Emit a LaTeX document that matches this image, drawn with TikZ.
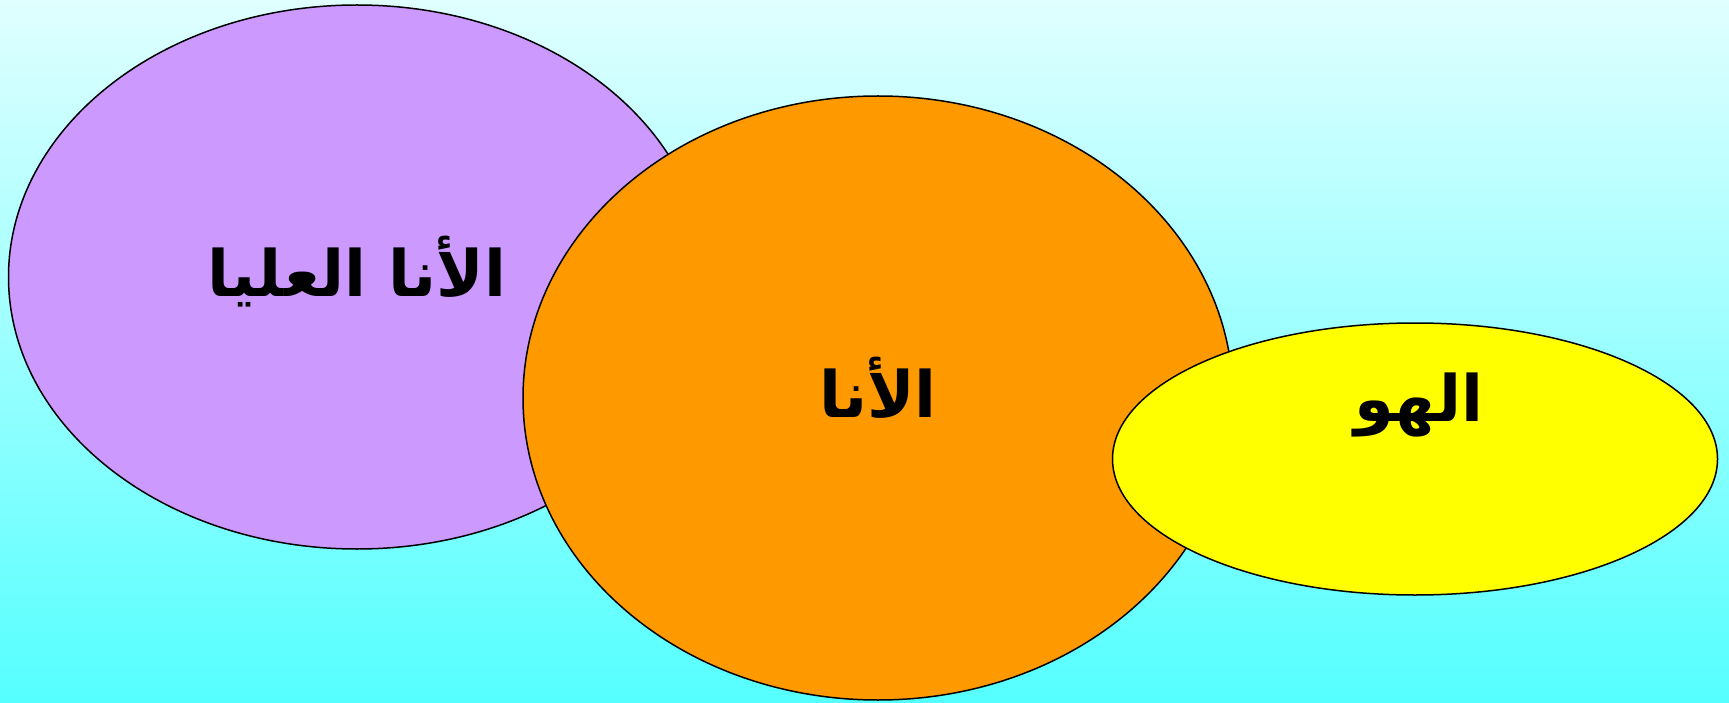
\documentclass[tikz,border=0pt]{standalone}
\usepackage{fontspec}
\usetikzlibrary{shapes.geometric}
\newfontfamily\arabicfont[Script=Arabic]{DejaVu Sans}
\TeXXeTstate=1
\definecolor{bgtop}{HTML}{E0FFFF}
\definecolor{bgbot}{HTML}{55FFFF}
\definecolor{purp}{HTML}{CC99FF}
\definecolor{orng}{HTML}{FF9900}
\definecolor{yell}{HTML}{FFFF00}
\tikzset{
  blob/.style={ellipse, draw=black, line width=1.5pt, inner sep=0pt},
  lbl/.style={font=\arabicfont\bfseries\fontsize{64}{70}\selectfont, text=black, inner sep=0pt}
}
\begin{document}
\begin{tikzpicture}[x=1pt,y=-1pt]
\shade[top color=bgtop, bottom color=bgbot] (0,0) rectangle (1729,703);
\useasboundingbox (0,0) rectangle (1729,703);
\node[blob, fill=purp, minimum width=697pt, minimum height=544pt] (superego) at (357,277) {};
\node[blob, fill=orng, minimum width=710pt, minimum height=604pt] (ego) at (878,398) {};
\node[blob, fill=yell, minimum width=605pt, minimum height=272pt] (id) at (1415,459) {};
\node[lbl] (tsuperego) at (357,272) {\beginR الأنا العليا\endR};
\node[lbl] (tego) at (878,388) {\beginR الأنا\endR};
\node[lbl] (tid) at (1419,405) {\beginR الهو\endR};
\end{tikzpicture}
\end{document}
